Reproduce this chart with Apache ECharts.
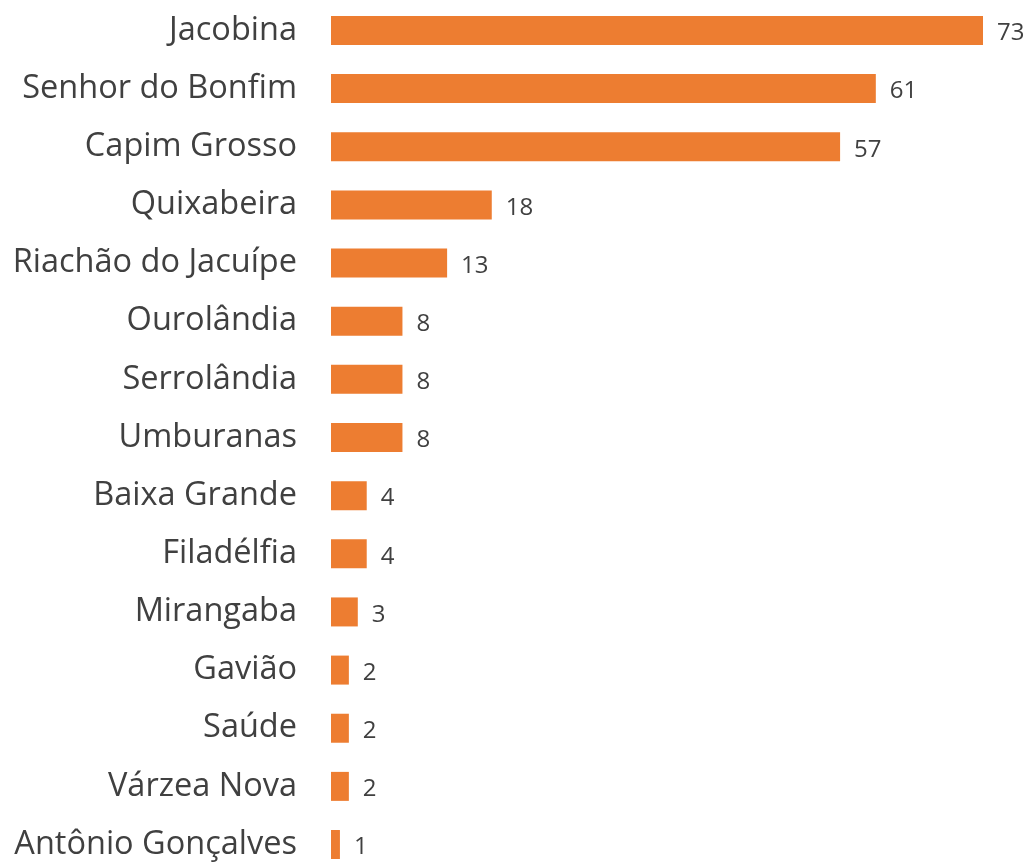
<!DOCTYPE html>
<html>
<head>
<meta charset="utf-8">
<script src="https://cdn.jsdelivr.net/npm/echarts@6/dist/echarts.min.js"></script>
<style>html,body{margin:0;padding:0;background:#fff}#c{width:1030px;height:862px}</style>
</head>
<body>
<div id="c"></div>
<script>
const categories = ["Jacobina","Senhor do Bonfim","Capim Grosso","Quixabeira","Riachão do Jacuípe","Ourolândia","Serrolândia","Umburanas","Baixa Grande","Filadélfia","Mirangaba","Gavião","Saúde","Várzea Nova","Antônio Gonçalves"];
const values = [73,61,57,18,13,8,8,8,4,4,3,2,2,2,1];

const chart = echarts.init(document.getElementById('c'), null, {renderer:'canvas'});
chart.setOption({
  animation:false,
  backgroundColor:'#ffffff',
  grid:{left:331, top:1.4, width:652, height:872.2, containLabel:false, outerBoundsMode:'none'},
  xAxis:{type:'value', min:0, max:73, show:false},
  yAxis:{type:'category', data:categories, inverse:true,
    axisLine:{show:false}, axisTick:{show:false}, splitLine:{show:false},
    axisLabel:{margin:34, fontFamily:'Open Sans', fontSize:32.5, color:'#404040'}},
  series:[{type:'bar', data:values, barWidth:29,
    itemStyle:{color:'#ED7D31'},
    label:{show:true, position:'right', distance:14, offset:[0,3], fontFamily:'Open Sans', fontSize:24, color:'#404040'}}]
});
</script>
</body>
</html>
